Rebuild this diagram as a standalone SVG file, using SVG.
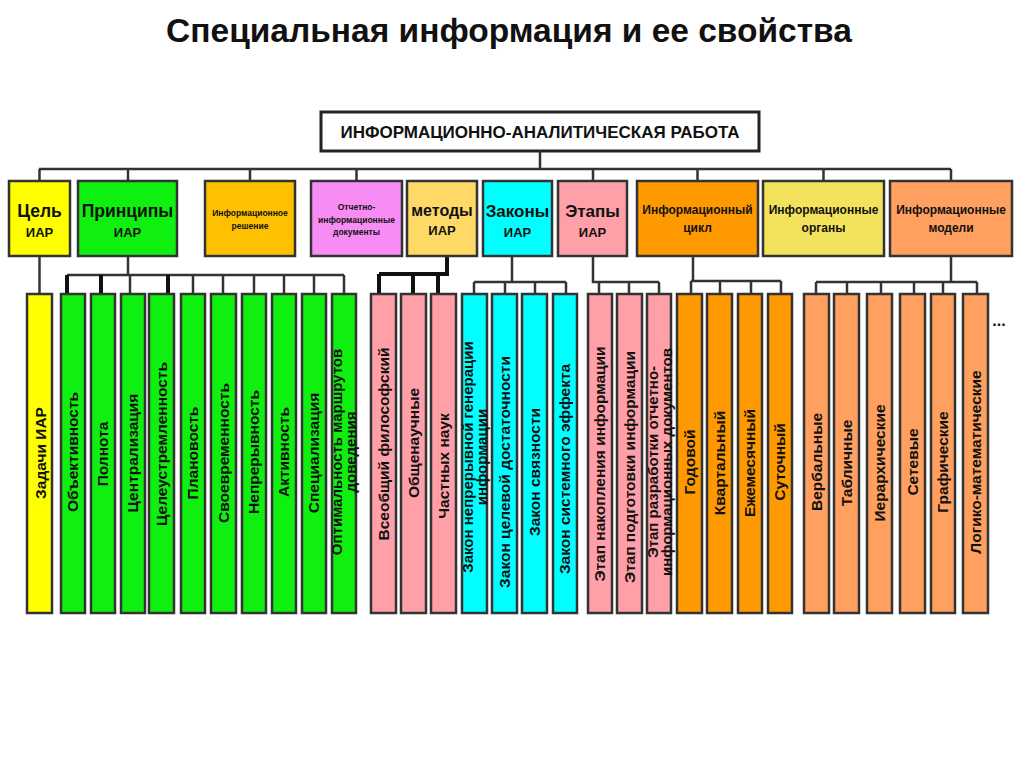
<svg xmlns="http://www.w3.org/2000/svg" width="1024" height="767" viewBox="0 0 1024 767">
<style>
.b{stroke:#333;stroke-width:2.5}
.c{fill:none;stroke:#333;stroke-width:2.5}
.k{fill:none;stroke:#111;stroke-width:4}
.t{font-family:"Liberation Sans",Arial,sans-serif;font-weight:bold;fill:#111;text-anchor:middle}
.v{font-size:15.5px}
.v2{font-size:15px}
.y{fill:#FFFF00}.g{fill:#10F010}.p{fill:#FFA0A8}.cy{fill:#00FFFF}.o{fill:#FF9900}.m{fill:#FFA060}
</style>
<rect width="1024" height="767" fill="#fff"/>
<text class="t" x="509" y="42" font-size="33.5">Специальная информация и ее свойства</text>

<g id="top">
<rect x="321" y="112" width="438" height="39" fill="#fff" stroke="#222" stroke-width="3"/>
<text class="t" x="540" y="138" font-size="17">ИНФОРМАЦИОННО-АНАЛИТИЧЕСКАЯ РАБОТА</text>
</g>

<g id="connectors">
<path class="c" d="M540 151V169M39 169H951M39.5 169V181M128 169V181M250 169V181M356.5 169V181M593 169V181M697.5 169V181M823.5 169V181M951 169V181"/>
<path class="c" d="M39.5 256V294"/>
<path class="c" d="M128 256V275M67 275H344M130 275V294M193 275V294M223 275V294M254 275V294M284 275V294M314 275V294M344 275V294"/>
<path class="k" d="M67 275V294M101 275V294M168 275V294"/>
<path class="k" d="M447 256V274H379M379 274V294M413 274V294M438 274V294"/>
<path class="c" d="M512 256V282M474 282H566M474 282V294M505 282V294M535 282V294M566 282V294"/>
<path class="c" d="M593 256V282H659M599 282V294M629 282V294M659 282V294"/>
<path class="c" d="M693 256V281M691 281H781M691 281V294M720 281V294M751 281V294M781 281V294"/>
<path class="c" d="M951 256V282M816 282H977M816 282V294M847 282V294M881 282V294M914 282V294M943 282V294M977 282V294"/>
</g>

<g id="cel"><rect class="b y" x="9" y="181" width="61" height="75"/>
<text class="t" x="39.5" y="217" font-size="17.5">Цель</text><text class="t" x="39.5" y="237" font-size="13">ИАР</text></g>
<g id="principy"><rect class="b g" x="78" y="181" width="99" height="75"/>
<text class="t" x="127.5" y="217" font-size="17.5">Принципы</text><text class="t" x="127.5" y="237" font-size="13">ИАР</text></g>
<g id="reshenie"><rect class="b" fill="#FFC000" x="205" y="181" width="90" height="75"/>
<text class="t" x="250" y="216" font-size="8.5">Информационное</text><text class="t" x="250" y="229" font-size="8.5">решение</text></g>
<g id="dokumenty"><rect class="b" fill="#F78CF5" x="311" y="181" width="91" height="75"/>
<text class="t" x="356.5" y="210" font-size="8.5">Отчетно-</text><text class="t" x="356.5" y="222.5" font-size="8.5">информационные</text><text class="t" x="356.5" y="235" font-size="8.5">документы</text></g>
<g id="metody"><rect class="b" fill="#FFD966" x="407" y="181" width="70" height="75"/>
<text class="t" x="442" y="216" font-size="16">методы</text><text class="t" x="442" y="235" font-size="13">ИАР</text></g>
<g id="zakony"><rect class="b cy" x="483" y="181" width="69" height="75"/>
<text class="t" x="517.5" y="217" font-size="17">Законы</text><text class="t" x="517.5" y="237" font-size="13">ИАР</text></g>
<g id="etapy"><rect class="b p" x="558" y="181" width="69" height="75"/>
<text class="t" x="592.5" y="217" font-size="17">Этапы</text><text class="t" x="592.5" y="237" font-size="13">ИАР</text></g>
<g id="cikl"><rect class="b o" x="637" y="181" width="121" height="75"/>
<text class="t" x="697.5" y="214" font-size="12">Информационный</text><text class="t" x="697.5" y="232" font-size="12">цикл</text></g>
<g id="organy"><rect class="b" fill="#F3E35C" x="763" y="181" width="121" height="75"/>
<text class="t" x="823.5" y="214" font-size="12">Информационные</text><text class="t" x="823.5" y="232" font-size="12">органы</text></g>
<g id="modeli"><rect class="b m" x="890" y="181" width="122" height="75"/>
<text class="t" x="951" y="214" font-size="12">Информационные</text><text class="t" x="951" y="232" font-size="12">модели</text></g>

<g id="zadachi"><rect class="b y" x="27" y="294" width="25" height="319"/><text class="t v" transform="translate(41,453) rotate(-90)" dy="0.35em">Задачи ИАР</text></g>
<g id="obektivnost"><rect class="b g" x="61" y="294" width="24" height="319"/><text class="t v" transform="translate(73,452) rotate(-90)" dy="0.35em">Объективность</text></g>
<g id="polnota"><rect class="b g" x="91" y="294" width="24" height="319"/><text class="t v" transform="translate(103,454) rotate(-90)" dy="0.35em">Полнота</text></g>
<g id="centralizaciya"><rect class="b g" x="121" y="294" width="24" height="319"/><text class="t v" transform="translate(133,453) rotate(-90)" dy="0.35em">Централизация</text></g>
<g id="celeustremlennost"><rect class="b g" x="149" y="294" width="25" height="319"/><text class="t v" transform="translate(161.5,444) rotate(-90)" dy="0.35em">Целеустремленность</text></g>
<g id="planovost"><rect class="b g" x="181" y="294" width="24" height="319"/><text class="t v" transform="translate(193,453) rotate(-90)" dy="0.35em">Плановость</text></g>
<g id="svoevremennost"><rect class="b g" x="211" y="294" width="25" height="319"/><text class="t v" transform="translate(223.5,453) rotate(-90)" dy="0.35em">Своевременность</text></g>
<g id="nepreryvnost"><rect class="b g" x="242" y="294" width="24" height="319"/><text class="t v" transform="translate(254,452) rotate(-90)" dy="0.35em">Непрерывность</text></g>
<g id="aktivnost"><rect class="b g" x="272" y="294" width="24" height="319"/><text class="t v" transform="translate(284,452) rotate(-90)" dy="0.35em">Активность</text></g>
<g id="specializaciya"><rect class="b g" x="302" y="294" width="24" height="319"/><text class="t v" transform="translate(314,453) rotate(-90)" dy="0.35em">Специализация</text></g>
<g id="optimalnost"><rect class="b g" x="332" y="294" width="24" height="319"/><text class="t v2" transform="translate(344,452) rotate(-90)"><tspan x="0" y="-6.8" dy="0.35em">Оптимальность маршрутов</tspan><tspan x="0" y="6.8" dy="0.35em">доведения</tspan></text></g>

<g id="vseobshchiy"><rect class="b p" x="371" y="294" width="25" height="319"/><text class="t v" transform="translate(383.5,444) rotate(-90)" dy="0.35em">Всеобщий философский</text></g>
<g id="obshchenauchnye"><rect class="b p" x="401" y="294" width="25" height="319"/><text class="t v" transform="translate(413.5,443) rotate(-90)" dy="0.35em">Общенаучные</text></g>
<g id="chastnyh"><rect class="b p" x="431" y="294" width="25" height="319"/><text class="t v" transform="translate(443.5,466) rotate(-90)" dy="0.35em">Частных наук</text></g>

<g id="zakon1"><rect class="b cy" x="462" y="294" width="25" height="319"/><text class="t v2" transform="translate(474.5,457) rotate(-90)"><tspan x="0" y="-6.8" dy="0.35em">Закон непрерывной генерации</tspan><tspan x="0" y="6.8" dy="0.35em">информации</tspan></text></g>
<g id="zakon2"><rect class="b cy" x="492" y="294" width="25" height="319"/><text class="t v" transform="translate(504.5,472) rotate(-90)" dy="0.35em">Закон целевой достаточности</text></g>
<g id="zakon3"><rect class="b cy" x="522" y="294" width="25" height="319"/><text class="t v" transform="translate(534.5,472) rotate(-90)" dy="0.35em">Закон связности</text></g>
<g id="zakon4"><rect class="b cy" x="553" y="294" width="24" height="319"/><text class="t v" transform="translate(565,469) rotate(-90)" dy="0.35em">Закон системного эффекта</text></g>

<g id="etap1"><rect class="b p" x="588" y="294" width="24" height="319"/><text class="t v" transform="translate(600,464) rotate(-90)" dy="0.35em">Этап накопления информации</text></g>
<g id="etap2"><rect class="b p" x="617" y="294" width="25" height="319"/><text class="t v" transform="translate(629.5,467) rotate(-90)" dy="0.35em">Этап подготовки информации</text></g>
<g id="etap3"><rect class="b p" x="647" y="294" width="24" height="319"/><text class="t v2" transform="translate(659.5,462) rotate(-90)"><tspan x="0" y="-6.8" dy="0.35em">Этап разработки отчетно-</tspan><tspan x="0" y="6.8" dy="0.35em">информационных документов</tspan></text></g>

<g id="godovoy"><rect class="b o" x="677" y="294" width="25" height="319"/><text class="t v" transform="translate(689.5,462) rotate(-90)" dy="0.35em">Годовой</text></g>
<g id="kvartalnyy"><rect class="b o" x="707" y="294" width="25" height="319"/><text class="t v" transform="translate(719.5,463) rotate(-90)" dy="0.35em">Квартальный</text></g>
<g id="ezhemesyachnyy"><rect class="b o" x="738" y="294" width="24" height="319"/><text class="t v" transform="translate(750,463) rotate(-90)" dy="0.35em">Ежемесячный</text></g>
<g id="sutochnyy"><rect class="b o" x="768" y="294" width="24" height="319"/><text class="t v" transform="translate(780,462) rotate(-90)" dy="0.35em">Суточный</text></g>

<g id="verbalnye"><rect class="b m" x="804" y="294" width="25" height="319"/><text class="t v" transform="translate(816.5,462) rotate(-90)" dy="0.35em">Вербальные</text></g>
<g id="tablichnye"><rect class="b m" x="834" y="294" width="25" height="319"/><text class="t v" transform="translate(846.5,463) rotate(-90)" dy="0.35em">Табличные</text></g>
<g id="ierarhicheskie"><rect class="b m" x="867" y="294" width="25" height="319"/><text class="t v" transform="translate(879.5,463) rotate(-90)" dy="0.35em">Иерархические</text></g>
<g id="setevye"><rect class="b m" x="900" y="294" width="25" height="319"/><text class="t v" transform="translate(912.5,462) rotate(-90)" dy="0.35em">Сетевые</text></g>
<g id="graficheskie"><rect class="b m" x="931" y="294" width="24" height="319"/><text class="t v" transform="translate(943,462) rotate(-90)" dy="0.35em">Графические</text></g>
<g id="logiko"><rect class="b m" x="963" y="294" width="25" height="319"/><text class="t v" transform="translate(975.5,462) rotate(-90)" dy="0.35em">Логико-математические</text></g>
<text class="t" x="999" y="326" font-size="16">...</text>
</svg>
